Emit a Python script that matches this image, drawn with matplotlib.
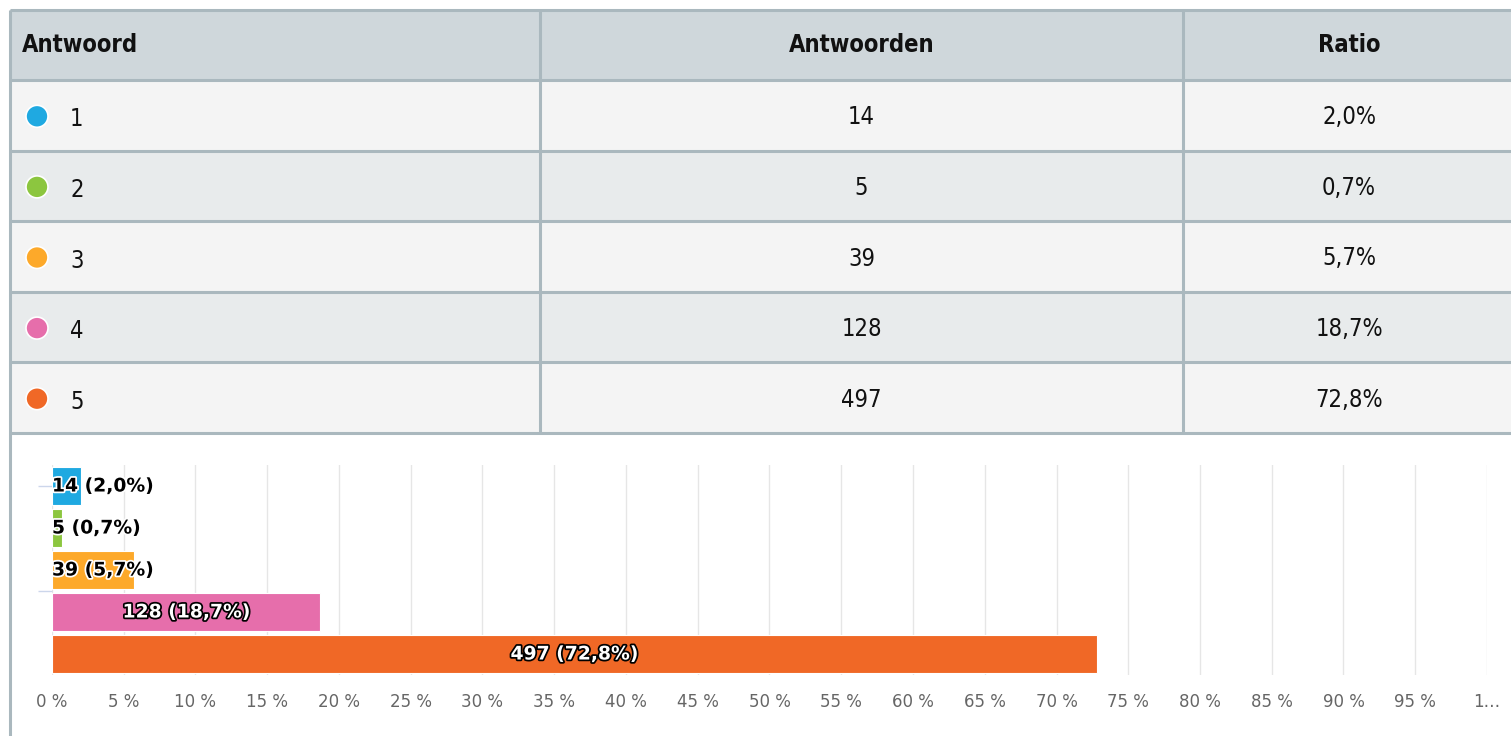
import matplotlib.pyplot as plt
import matplotlib.patheffects as pe
from matplotlib.patches import Rectangle, Circle

# data
answers = ['1', '2', '3', '4', '5']
counts = [14, 5, 39, 128, 497]
ratios = [2.0, 0.7, 5.7, 18.7, 72.8]
colors = ['#1fa9e1', '#8cc63f', '#fda92a', '#e66eab', '#f06826']
headers = ['Antwoord', 'Antwoorden', 'Ratio']
xticks = list(range(0, 105, 5))
xtick_labels = [f'{t} %' for t in xticks[:-1]] + ['1…']

W, H = 1511, 736
fig = plt.figure(figsize=(W / 100, H / 100), dpi=100)
fig.patch.set_facecolor('white')

tfont = ['DejaVu Sans']
tkw = dict(family=tfont, fontstretch='condensed', color='#111111')
border = '#aab8be'

# table drawn in pixel space
bg = fig.add_axes([0, 0, 1, 1])
bg.set_xlim(0, W)
bg.set_ylim(H, 0)
bg.axis('off')

top, head_h, row_h = 10, 70, 70.6
col_x = [10, 540, 1183, 1520]
row_bg = ['#f4f4f4', '#e8ebec']

bg.add_patch(Rectangle((10, top), W, head_h, facecolor='#cfd7db', edgecolor='none'))
for i in range(len(answers)):
    y0 = top + head_h + i * row_h
    bg.add_patch(Rectangle((10, y0), W, row_h, facecolor=row_bg[i % 2], edgecolor='none'))

lw = 2.2
bottom = top + head_h + len(answers) * row_h
for k in range(len(answers) + 2):
    y = top if k == 0 else top + head_h + (k - 1) * row_h
    bg.plot([10, W], [y, y], color=border, lw=lw, solid_capstyle='butt')
bg.plot([10, 10], [top, H], color=border, lw=lw, solid_capstyle='butt')
for x in col_x[1:3]:
    bg.plot([x, x], [top, bottom], color=border, lw=lw, solid_capstyle='butt')

hy = top + head_h / 2
mid2 = (col_x[1] + col_x[2]) / 2
mid3 = (col_x[2] + W) / 2 + 2
bg.text(22, hy, headers[0], ha='left', va='center', fontsize=17, fontweight='bold', **tkw)
bg.text(mid2, hy, headers[1], ha='center', va='center', fontsize=17, fontweight='bold', **tkw)
bg.text(mid3, hy, headers[2], ha='center', va='center', fontsize=17, fontweight='bold', **tkw)

for i, (a, c, r) in enumerate(zip(answers, counts, ratios)):
    yc = top + head_h + i * row_h + row_h / 2
    bg.add_patch(Circle((37, yc + 1), 11, facecolor=colors[i], edgecolor='white', lw=1.2))
    bg.text(70, yc + 4, a, ha='left', va='center', fontsize=17, **tkw)
    bg.text(mid2, yc + 2, str(c), ha='center', va='center', fontsize=17, **tkw)
    bg.text(mid3, yc + 2, f'{r:.1f}%'.replace('.', ','), ha='center', va='center', fontsize=17, **tkw)

# bar chart
x0, x1, yt, yb = 52, 1487, 465, 675
ax = fig.add_axes([x0 / W, 1 - yb / H, (x1 - x0) / W, (yb - yt) / H])
ax.set_facecolor('none')
ypos = list(range(len(answers)))
ax.barh(ypos, ratios, height=0.9, color=colors, edgecolor='white', linewidth=0.8, zorder=3)
ax.set_xlim(0, 100)
ax.set_ylim(len(answers) - 0.5, -0.5)
ax.set_xticks(xticks)
ax.set_xticklabels(xtick_labels, fontsize=12, color='#666666')
ax.tick_params(axis='x', length=0, pad=13)
ax.set_yticks([0, 2.5])
ax.set_yticklabels([])
ax.tick_params(axis='y', length=10, color='#ccd6eb', width=1)
ax.grid(axis='x', color='#e6e6e6', linewidth=1, zorder=0)
for s in ax.spines.values():
    s.set_visible(False)

for i, (c, r) in enumerate(zip(counts, ratios)):
    lab = f'{c} ({r:.1f}%)'.replace('.', ',')
    if r < 10:
        ax.text(0, i, lab, ha='left', va='center', fontsize=13.5, fontweight='bold', color='black',
                zorder=5, path_effects=[pe.withStroke(linewidth=2.5, foreground='white')])
    else:
        ax.text(r / 2, i, lab, ha='center', va='center', fontsize=13.5, fontweight='bold', color='white',
                zorder=5, path_effects=[pe.withStroke(linewidth=2.5, foreground='black')])

fig.savefig('out.png', dpi=100)
